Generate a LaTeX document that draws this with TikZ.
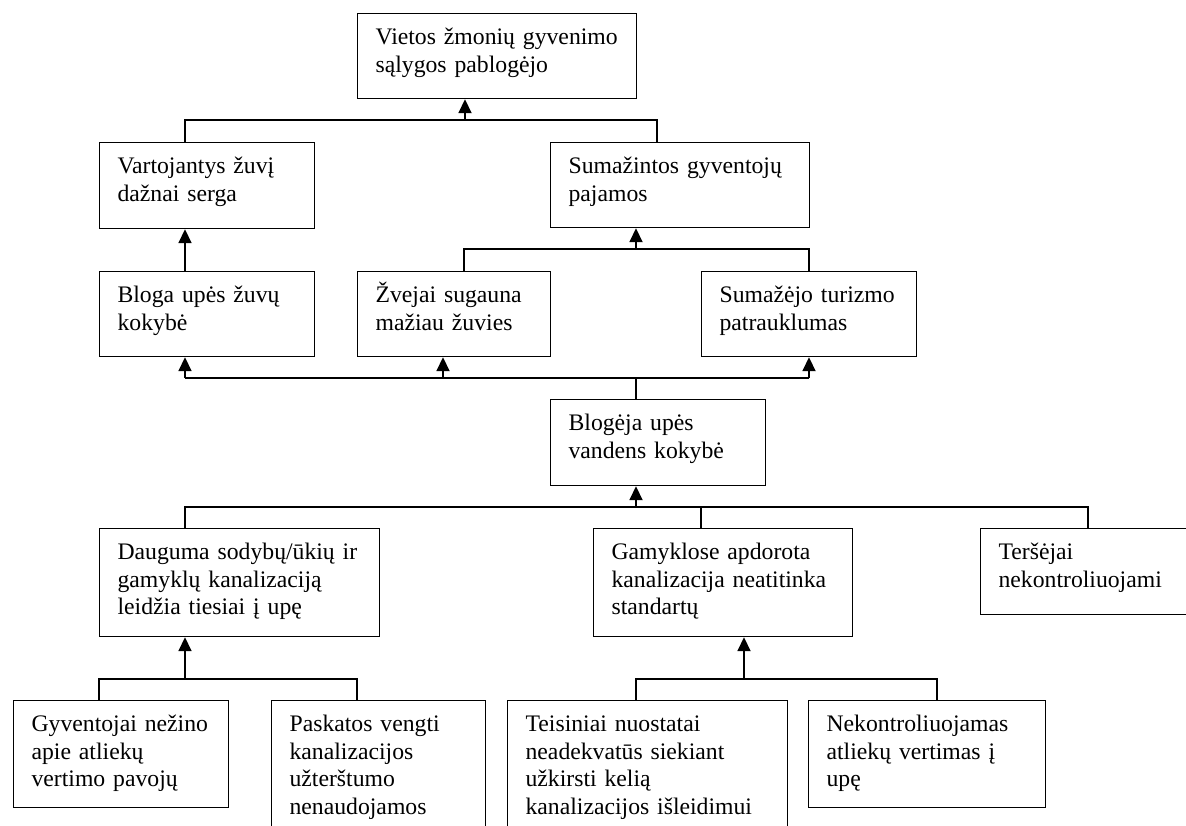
\documentclass[tikz,border=0pt]{standalone}
\usepackage{fontspec}
\setmainfont{Liberation Serif}
\usepackage{tikz}
\usetikzlibrary{arrows.meta,positioning,calc}

\begin{document}
\begin{tikzpicture}[
x=1pt,
y=-1pt,
box/.style={
  draw,
  line width=1.2pt,
  anchor=north west,
  align=left,
  inner xsep=18pt,
  inner ysep=0pt,
  text height=31pt,
  font=\fontsize{23.7pt}{27.6pt}\selectfont
  },
bus/.style={
  line width=1.2pt
  },
up/.style={
  ->,
  line width=1.8pt
  },
>={Triangle[width=13pt,length=14pt]}
]
\clip (0,0) rectangle (1186,825);

\node[box, text width=243pt, text depth=54pt] at (357,13)
  (top) {Vietos žmonių gyvenimo\\sąlygos pablogėjo};
\node[box, text width=179pt, text depth=55pt] at (99,142)
  (vart) {Vartojantys žuvį\\dažnai serga};
\node[box, text width=223pt, text depth=54pt] at (550,142)
  (pajam) {Sumažintos gyventojų\\pajamos};
\node[box, text width=179pt, text depth=54pt] at (99,271)
  (zuvk) {Bloga upės žuvų\\kokybė};
\node[box, text width=157pt, text depth=54pt] at (357,271)
  (zvej) {Žvejai sugauna\\mažiau žuvies};
\node[box, text width=179pt, text depth=54pt] at (701,271)
  (turiz) {Sumažėjo turizmo\\patrauklumas};
\node[box, text width=179pt, text depth=55pt] at (550,399)
  (vand) {Blogėja upės\\vandens kokybė};
\node[box, text width=244pt, text depth=77pt] at (99,528)
  (daug) {Dauguma sodybų/ūkių ir\\gamyklų kanalizaciją\\leidžia tiesiai į upę};
\node[box, text width=223pt, text depth=77pt] at (593,528)
  (gamyk) {Gamyklose apdorota\\kanalizacija neatitinka\\standartų};
\node[box, text width=180pt, text depth=55pt] at (980,528)
  (tersej) {Teršėjai\\nekontroliuojami};
\node[box, text width=179pt, text depth=76pt] at (13,700)
  (gyven) {Gyventojai nežino\\apie atliekų\\vertimo pavojų};
\node[box, text width=178pt, text depth=109pt] at (271,700)
  (paskat) {Paskatos vengti\\kanalizacijos\\užterštumo\\nenaudojamos};
\node[box, text width=244pt, text depth=109pt] at (507,700)
  (teisin) {Teisiniai nuostatai\\neadekvatūs siekiant\\užkirsti kelią\\kanalizacijos išleidimui};
\node[box, text width=201pt, text depth=76pt] at (808,700)
  (nekont) {Nekontroliuojamas\\atliekų vertimas į\\upę};

\coordinate (l1) at (185,120);
\coordinate (m1) at (465,120);
\coordinate (r1) at (657,120);
\coordinate (l2) at (464,249);
\coordinate (m2) at (636,249);
\coordinate (r2) at (809,249);
\coordinate (l3) at (185,378);
\coordinate (n3) at (443,378);
\coordinate (m3) at (636,378);
\coordinate (r3) at (809,378);
\coordinate (l4) at (185,507);
\coordinate (m4) at (636,507);
\coordinate (g4) at (701,507);
\coordinate (r4) at (1088,507);
\coordinate (l5) at (99,679);
\coordinate (m5) at (185,679);
\coordinate (r5) at (357,679);
\coordinate (l6) at (636,679);
\coordinate (m6) at (744,679);
\coordinate (r6) at (937,679);

\draw[bus] (l1 |- vart.north) -- (l1) -- (r1) -- (r1 |- pajam.north);
\draw[up] (m1) -- (m1 |- top.south);
\draw[up] (l1 |- zuvk.north) -- (l1 |- vart.south);

\draw[bus] (l2 |- zvej.north) -- (l2) -- (r2) -- (r2 |- turiz.north);
\draw[up] (m2) -- (m2 |- pajam.south);

\draw[bus] (l3) -- (r3);
\draw[bus] (m3) -- (m3 |- vand.north);
\foreach \c/\n in {l3/zuvk, n3/zvej, r3/turiz}
  \draw[up] (\c) -- (\c |- \n.south);

\draw[bus] (l4 |- daug.north) -- (l4) -- (r4) -- (r4 |- tersej.north);
\draw[bus] (g4) -- (g4 |- gamyk.north);
\draw[up] (m4) -- (m4 |- vand.south);

\draw[bus] (l5 |- gyven.north) -- (l5) -- (r5) -- (r5 |- paskat.north);
\draw[up] (m5) -- (m5 |- daug.south);

\draw[bus] (l6 |- teisin.north) -- (l6) -- (r6) -- (r6 |- nekont.north);
\draw[up] (m6) -- (m6 |- gamyk.south);

\end{tikzpicture}
\end{document}
